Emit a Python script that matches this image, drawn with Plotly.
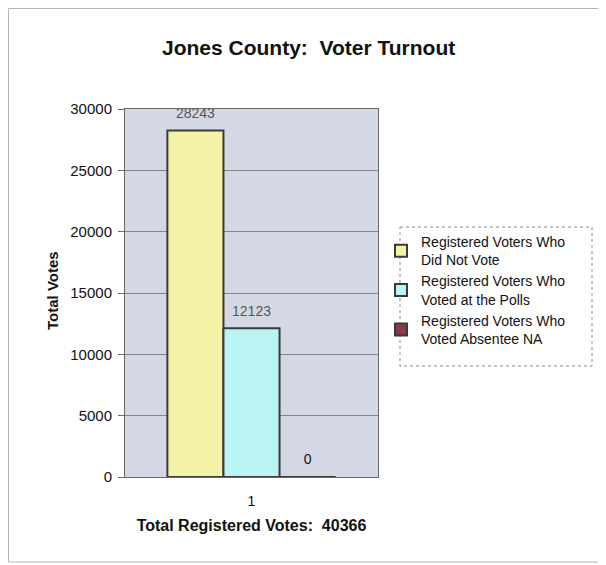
import plotly.graph_objects as go

categories = ["1"]
series_names = [
    "Registered Voters Who<br>Did Not Vote",
    "Registered Voters Who<br>Voted at the Polls",
    "Registered Voters Who<br>Voted Absentee NA",
]
series_values = [[28243], [12123], [0]]
series_colors = ["#F4F2A6", "#BAF4F4", "#8C3A4A"]
label_colors = ["#555555", "#555555", "#111111"]
y_ticks = [0, 5000, 10000, 15000, 20000, 25000, 30000]
total_registered = 40366

FONT = "Arial, Liberation Sans, sans-serif"

# the page body has an 8px margin; work in page pixel coordinates
OFF = 8
W, H = 606 - OFF, 565 - OFF
PL, PR, PT, PB = 125, 378, 109, 477          # plot area in page pixels
L, T = PL - OFF, PT - OFF
pw, ph = PR - PL, PB - PT
R, B = W - L - pw, H - T - ph
GAP = 0.335

def px_x(x):
    return (x - PL) / pw

def px_y(y):
    return (PB - y) / ph

fig = go.Figure()
for name, vals, col in zip(series_names, series_values, series_colors):
    fig.add_trace(go.Bar(
        x=categories, y=vals, name=name,
        marker=dict(color=col, line=dict(color="#3a3a3a", width=2)),
    ))
# value labels, grouped the same way as the bars
for name, vals, lc in zip(series_names, series_values, label_colors):
    fig.add_trace(go.Scatter(
        x=categories, y=vals, mode="markers+text", showlegend=False,
        marker=dict(size=13, opacity=0),
        text=[str(v) for v in vals], textposition="top center",
        textfont=dict(family=FONT, size=14, color=lc),
        cliponaxis=False, hoverinfo="skip",
    ))

fig.update_layout(
    width=W, height=H,
    margin=dict(l=L, r=R, t=T, b=B),
    paper_bgcolor="white",
    plot_bgcolor="#D4D8E4",
    barmode="group",
    bargap=GAP,
    bargroupgap=0,
    scattermode="group",
    scattergap=GAP,
    showlegend=True,
    legend=dict(
        x=px_x(381), y=px_y(226), xanchor="left", yanchor="top",
        font=dict(family=FONT, size=14, color="#111"),
        bgcolor="rgba(0,0,0,0)", borderwidth=0,
        tracegroupgap=0,
    ),
    font=dict(family=FONT, size=14, color="#111"),
    xaxis=dict(
        type="category", range=[-0.5, 0.5],
        showline=True, linecolor="#6a6a6a", linewidth=1, mirror=True,
        ticks="", showgrid=False, ticklabelstandoff=11,
        tickfont=dict(family=FONT, size=14, color="#111"),
        title=dict(text=f"<b>Total Registered Votes:  {total_registered}</b>",
                   font=dict(family=FONT, size=16, color="#111"), standoff=12),
    ),
    yaxis=dict(
        range=[0, 30000], tickvals=y_ticks, tickformat="d",
        showline=True, linecolor="#6a6a6a", linewidth=1, mirror=True,
        ticks="outside", ticklen=6, tickcolor="#6a6a6a", ticklabelstandoff=3,
        showgrid=True, gridcolor="#858585", gridwidth=1,
        zeroline=False,
        tickfont=dict(family=FONT, size=15, color="#111"),
    ),
    annotations=[
        dict(text="<b>Jones County:  Voter Turnout</b>", xref="paper", yref="paper",
             x=px_x(308), y=px_y(47), xanchor="center", yanchor="middle",
             showarrow=False, font=dict(family=FONT, size=21, color="#111")),
        dict(text="<b>Total Votes</b>", xref="paper", yref="paper",
             x=px_x(52), y=px_y(291), xanchor="center", yanchor="middle",
             textangle=-90, showarrow=False,
             font=dict(family=FONT, size=15, color="#111")),
    ],
    shapes=[
        dict(type="rect", xref="paper", yref="paper",
             x0=px_x(400), x1=px_x(592), y0=px_y(227), y1=px_y(366),
             line=dict(color="#8a8a8a", width=1, dash="dot")),
        dict(type="rect", xref="paper", yref="paper",
             x0=px_x(8.5), x1=px_x(603), y0=px_y(8.5), y1=px_y(562),
             line=dict(color="#b5b5b5", width=1)),
    ],
)

fig.write_html("out.html")
